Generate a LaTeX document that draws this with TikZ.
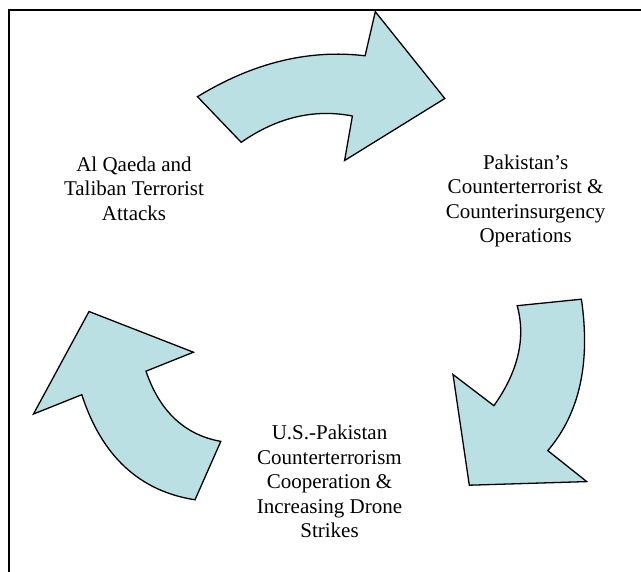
\documentclass[tikz,border=0pt]{standalone}
\usepackage{fontspec}
\setmainfont{Liberation Serif}
\definecolor{arrowfill}{RGB}{187,224,227}
\begin{document}
\begin{tikzpicture}[x=1pt,y=-1pt,
  blockarrow/.style={draw=black,line width=1.3pt,fill=arrowfill,line join=miter},
  textblock/.style={align=center,font=\fontsize{21}{24.5}\selectfont,inner sep=0pt}]
\useasboundingbox (0,0) rectangle (641,572);
\clip (0,0) rectangle (641,572);
\draw[line width=1.8pt] (9.2,10.2) rectangle (660,590);
% top arrow
\draw[blockarrow] (197.5,96.7) .. controls (253,62.7) and (308.9,49.1) .. (365.1,55.8)
  -- (375.3,11.7) -- (444.8,98.5) -- (344.6,160.5) -- (352.4,116)
  .. controls (314.3,108.6) and (277.2,117.3) .. (241.2,142.3) -- cycle;
% right arrow
\draw[blockarrow] (517.2,305.7) -- (581.4,299.2)
  .. controls (590.7,363.1) and (579.5,413.6) .. (547.8,450.6)
  -- (586.7,481.6) -- (469.3,485.2) -- (453,374.5) -- (493.9,405.7)
  .. controls (518.3,371.4) and (526,338.1) .. (517.2,305.7) -- cycle;
% left arrow
\draw[blockarrow] (220.8,441.4) -- (195,499.8)
  .. controls (139.4,491.1) and (101.7,456.1) .. (81.8,394.7)
  -- (33.5,414) -- (89,311.5) -- (193.4,352.2) -- (146,371.2)
  .. controls (159.7,411.5) and (184.7,434.9) .. (220.8,441.4) -- cycle;
\node[textblock] (attacks) at (134,188.5) {Al Qaeda and\\Taliban Terrorist\\Attacks};
\node[textblock] (ops) at (525.6,201) {Pakistan’s\\Counterterrorist \&\\Counterinsurgency\\Operations};
\node[textblock] (coop) at (329.5,481.5) {U.S.-Pakistan\\Counterterrorism\\Cooperation \&\\Increasing Drone\\Strikes};
\end{tikzpicture}
\end{document}
